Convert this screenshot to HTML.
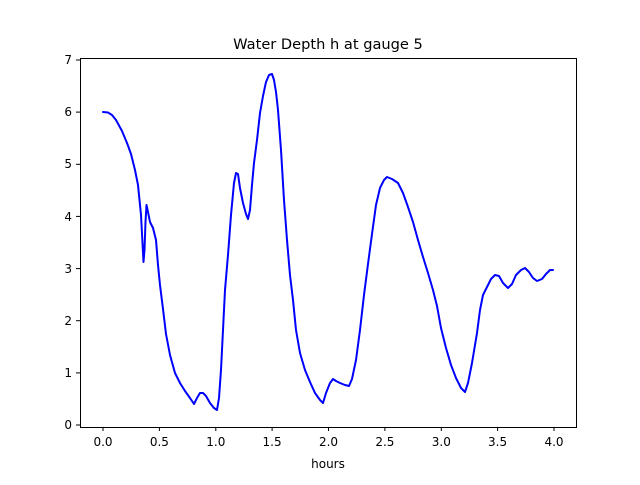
<!DOCTYPE html>
<html><head><meta charset="utf-8"><style>
body{margin:0;background:#fff}
svg text{font-family:"DejaVu Sans","Liberation Sans",sans-serif;fill:#000}
</style></head><body>
<svg width="640" height="480" viewBox="0 0 640 480" xmlns="http://www.w3.org/2000/svg">
<rect width="640" height="480" fill="#fff"/>
<text x="328" y="49" font-size="14.6" text-anchor="middle">Water Depth h at gauge 5</text>
<polyline fill="none" stroke="#0000ff" stroke-width="2" stroke-linejoin="round" stroke-linecap="round" points="103,112 108,112.5 112,115 116,120 122,131 127,143 131,154 135,170 138,185 141,215 143.5,262 144.5,250 145.5,222 146.5,205 148,212 150,222 153,228 156,240 158,265 160,285 163,309 166,334 170,355 175,373 180,383 185,391 190,398 194,404 197,398 200,393 203,393 206,396 210,403 214,408 217,410 219,398 221,370 223,330 225,290 228,255 231,215 234,183 236,173 238,174 240,188 243,203 246,214 248,219 250,210 252,185 254,163 257,140 260,113 263,96 266,82 269,75 272,74 274,80 276,92 278,110 281,150 284,200 287,240 290,275 293,300 296,330 300,353 305,370 310,382 315,393 320,400 323,403 326,393 330,383 333,379 336,381 340,383 345,385 349,386 352,379 356,360 360,330 364,295 368,264 372,234 376,205 380,188 384,180 387,177 392,179 398,183 403,193 408,207 413,222 418,240 423,257 428,273 433,290 437,306 441,328 446,348 451,365 456,378 461,388 465,392 468,383 472,363 477,333 480,310 483,295 487,287 491,279 495,275 499,276 503,283 508,288 512,284 516,275 521,270 525,268 529,272 533,278 537,281 542,279 546,274 550,270 553,270"/>
<rect x="80.5" y="58.5" width="496" height="369" fill="none" stroke="#000" stroke-width="1"/>
<g stroke="#000" stroke-width="1">
<line x1="103" y1="427" x2="103" y2="431"/><line x1="159.4" y1="427" x2="159.4" y2="431"/><line x1="215.8" y1="427" x2="215.8" y2="431"/><line x1="272.1" y1="427" x2="272.1" y2="431"/><line x1="328.5" y1="427" x2="328.5" y2="431"/><line x1="384.9" y1="427" x2="384.9" y2="431"/><line x1="441.3" y1="427" x2="441.3" y2="431"/><line x1="497.6" y1="427" x2="497.6" y2="431"/><line x1="554" y1="427" x2="554" y2="431"/>
<line x1="76" y1="425" x2="80" y2="425"/><line x1="76" y1="372.9" x2="80" y2="372.9"/><line x1="76" y1="320.7" x2="80" y2="320.7"/><line x1="76" y1="268.6" x2="80" y2="268.6"/><line x1="76" y1="216.4" x2="80" y2="216.4"/><line x1="76" y1="164.3" x2="80" y2="164.3"/><line x1="76" y1="112.1" x2="80" y2="112.1"/><line x1="76" y1="60" x2="80" y2="60"/>
</g>
<g font-size="12" text-anchor="middle">
<text x="103" y="446">0.0</text><text x="159.4" y="446">0.5</text><text x="215.8" y="446">1.0</text><text x="272.1" y="446">1.5</text><text x="328.5" y="446">2.0</text><text x="384.9" y="446">2.5</text><text x="441.3" y="446">3.0</text><text x="497.6" y="446">3.5</text><text x="554" y="446">4.0</text>
<text x="328" y="468">hours</text>
</g>
<g font-size="12" text-anchor="end">
<text x="72" y="429">0</text><text x="72" y="377">1</text><text x="72" y="325">2</text><text x="72" y="273">3</text><text x="72" y="221">4</text><text x="72" y="168">5</text><text x="72" y="116">6</text><text x="72" y="64">7</text>
</g>
</svg>
</body></html>
